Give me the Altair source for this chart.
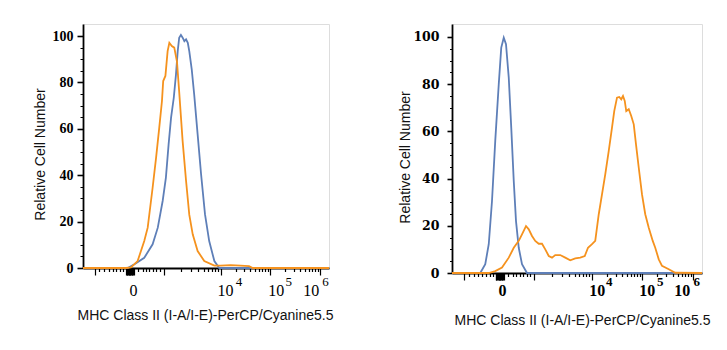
import math
import altair as alt
import pandas as pd

# ---------------- data (x in display channels 0..1000, y = relative cell number) -------------
left_orange_x = [0, 175, 195, 222, 249, 263, 283, 297, 310, 321, 326, 335, 344, 351, 361, 371, 382,
                 391, 405, 419, 432, 446, 466, 493, 534, 560, 600, 640, 675, 690, 1000]
left_orange_y = [0, 0, 0.3, 3, 11.6, 17.4, 34.6, 47.5, 60.5, 72, 80.6, 82.8, 93.5, 97.1, 95.7, 95, 89,
                 76, 54.7, 37.5, 23, 14.5, 7.3, 3, 1, 1, 1.2, 1, 0.8, 0, 0]
left_blue_x = [0, 182, 209, 249, 283, 304, 324, 337, 348, 358, 369, 378, 385, 391, 398, 405, 412,
               419, 426, 432, 442, 452, 466, 480, 496, 513, 534, 554, 1000]
left_blue_y = [0, 0, 1.6, 4.4, 10.2, 17.4, 29, 39, 53.3, 64.8, 73.4, 83.5, 93.5, 99.3, 100.5, 99.3, 97.8,
               98.6, 97.1, 93.5, 85.6, 74.8, 57.6, 40.4, 23.1, 11.6, 3, 0, 0]

right_blue_x = [0, 113, 133, 147, 160, 173, 187, 197, 207, 216, 227, 237, 247, 256, 267, 280, 300, 1000]
right_blue_y = [0, 0, 3.7, 12.2, 30.5, 56, 80, 95.5, 99.7, 96.9, 82.8, 61.6, 39, 22, 10.7, 3.7, 0, 0]
right_orange_x = [0, 147, 173, 200, 227, 247, 267, 280, 296, 307, 320, 333, 347, 360, 373, 387, 400,
                  413, 433, 453, 473, 493, 513, 531, 544, 560, 573, 587, 600, 613, 627, 640, 649, 660,
                  669, 677, 684, 691, 697, 707, 717, 727, 736, 747, 760, 773, 787, 803, 813, 827, 840,
                  867, 893, 1000]
right_orange_y = [0, 0, 0.8, 2.3, 6.5, 10.7, 13.6, 16.4, 19.9, 18.5, 15.7, 13.6, 12.4, 12.4, 10, 7.2, 6.5,
                  7.6, 7.6, 6.5, 5.4, 6.2, 6.5, 7.2, 10.7, 12.2, 13.6, 24.9, 33.3, 41.8, 51.7, 61.6, 68.6, 74.3,
                  74.6, 73.6, 75, 72.9, 68.6, 69.4, 66.5, 63, 54.5, 44.6, 33.3, 24.9, 19.2, 13.6, 10.7, 5.8, 3,
                  1.6, 0.1, 0]

# axis tick positions (display channels)
major_ticks = [48, 190, 329, 560, 760, 964]
cluster_ticks = [v for v in range(174, 208, 3) if v != 190]
neg_minor = [66, 86, 104, 120, 136, 150, 163]
pos_minor = [222, 242, 256, 270, 284, 298, 312]
decades = [(329, 560), (560, 760), (760, 964)]
log_minor = [round(a + (b - a) * math.log10(k), 1) for a, b in decades for k in range(2, 10)]

left_labels = [("0", 203), ("10", 577), ("4", 632), ("10", 784), ("5", 834), ("10", 926), ("6", 984)]
right_labels = [("0", 200), ("10", 579), ("4", 627), ("10", 779), ("5", 831), ("10", 919), ("6", 977)]

BLUE = "#5E7FB8"
ORANGE = "#F5921E"


def x_axis(labels, pad_main, pad_exp, weight, title_x, title_y):
    lab_pos = [p for _, p in labels]
    exp_pos = [p for t, p in labels if t in ("4", "5", "6")]
    long_ticks = major_ticks + cluster_ticks
    values = major_ticks + cluster_ticks + neg_minor + pos_minor + log_minor + lab_pos
    expr = "''"
    for t, p in reversed(labels):
        expr = f"datum.value == {p} ? '{t}' : ({expr})"
    return alt.Axis(
        values=values,
        labelExpr=expr,
        tickSize={"condition": {"test": f"indexof({long_ticks}, datum.value) >= 0", "value": 7}, "value": 3.5},
        tickOpacity={"condition": {"test": f"indexof({lab_pos}, datum.value) >= 0", "value": 0}, "value": 1},
        labelPadding={"condition": {"test": f"indexof({exp_pos}, datum.value) >= 0", "value": pad_exp},
                      "value": pad_main},
        labelFontSize={"condition": {"test": f"indexof({exp_pos}, datum.value) >= 0", "value": 13},
                       "value": 16},
        labelFont="Liberation Serif",
        labelFontWeight=weight,
        labelColor="black",
        labelOverlap=False,
        labelFlush=False,
        labelBound=False,
        tickColor="black",
        tickWidth=1.2,
        domainColor="black",
        domainWidth=1.8,
        grid=False,
        title="MHC Class II (I-A/I-E)-PerCP/Cyanine5.5",
        titleFont="Liberation Sans",
        titleFontSize=14,
        titleFontWeight="normal",
        titleColor="#111",
        titleX=title_x,
        titleY=title_y,
        titleBaseline="alphabetic",
    )


def y_axis(font, size, weight, major_len, pad, title_x, title_y):
    return alt.Axis(
        values=list(range(0, 101, 5)),
        labelExpr="datum.value % 20 == 0 ? datum.label : ''",
        tickSize={"condition": {"test": "datum.value % 20 == 0", "value": major_len}, "value": major_len / 2},
        tickWidth={"condition": {"test": "datum.value % 20 == 0", "value": 1.6}, "value": 1},
        labelPadding=pad,
        labelFont=font,
        labelFontSize=size,
        labelFontWeight=weight,
        labelColor="black",
        labelOverlap=False,
        tickColor="black",
        domainColor="black",
        domainWidth=1.8,
        grid=False,
        title="Relative Cell Number",
        titleFont="Liberation Sans",
        titleFontSize=14,
        titleFontWeight="normal",
        titleColor="#111",
        titleX=title_x,
        titleY=title_y,
    )


def panel(bx, by, ox, oy, xax, yax, ymax, w, h):
    blue = pd.DataFrame({"ch": bx, "n": by})
    orange = pd.DataFrame({"ch": ox, "n": oy})
    xenc = alt.X("ch:Q", scale=alt.Scale(domain=[0, 1000], nice=False, zero=False), axis=xax)
    yenc = alt.Y("n:Q", scale=alt.Scale(domain=[0, ymax], nice=False), axis=yax)
    l1 = alt.Chart(blue).mark_line(color=BLUE, strokeWidth=1.8).encode(x=xenc, y=yenc)
    l2 = alt.Chart(orange).mark_line(color=ORANGE, strokeWidth=1.8).encode(x=xenc, y=yenc)
    return alt.layer(l1, l2).properties(width=w, height=h)


left = panel(left_blue_x, left_blue_y, left_orange_x, left_orange_y,
             x_axis(left_labels, 11, 3.5, "normal", 122, 51),
             y_axis("Liberation Serif", 14, "bold", 6, 4, -36, 130),
             105.2, 246, 244)
right = panel(right_blue_x, right_blue_y, right_orange_x, right_orange_y,
              x_axis(right_labels, 6, -1.5, "bold", 130, 51),
              y_axis("DejaVu Serif", 12.5, "bold", 5, 8, -40, 133),
              105.5, 250, 249)

chart = alt.hconcat(left, right, spacing=63).properties(
    padding={"left": 32, "top": 23, "right": 5, "bottom": 5}
).configure_view(stroke="#666", strokeWidth=1).configure(background="white")

chart.save("out.html", embed_options={"renderer": "svg", "actions": False})
